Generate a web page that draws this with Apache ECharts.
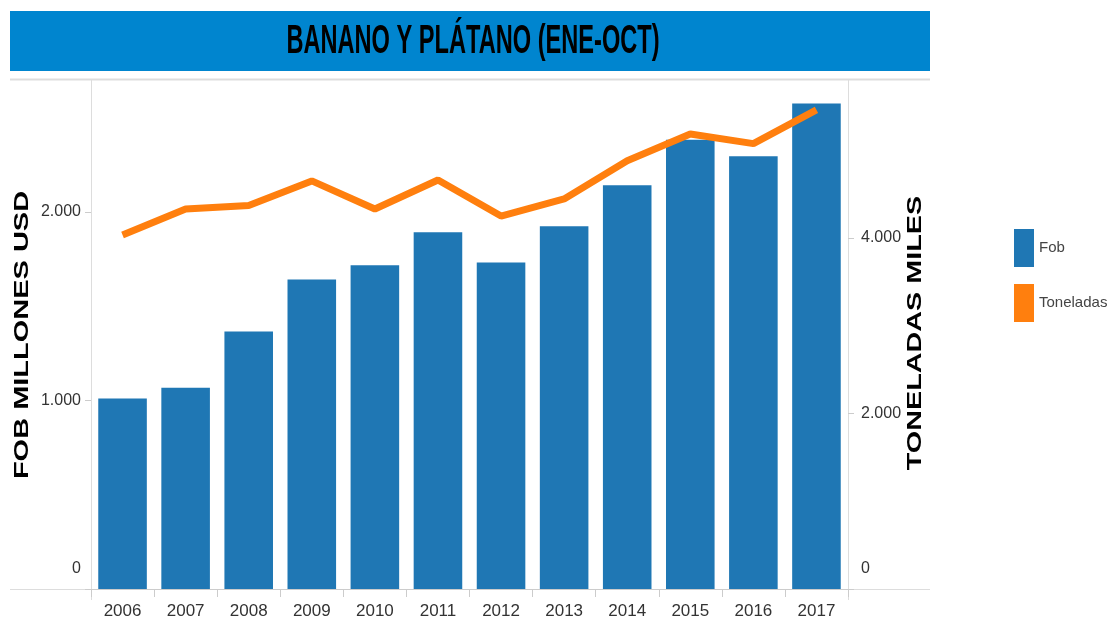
<!DOCTYPE html>
<html>
<head>
<meta charset="utf-8">
<script src="https://cdn.jsdelivr.net/npm/echarts@6/dist/echarts.min.js"></script>
<style>
html,body{margin:0;padding:0;background:#fff;}
#chart{width:1110px;height:624px;}
</style>
</head>
<body>
<div id="chart"></div>
<script>
const years = ['2006','2007','2008','2009','2010','2011','2012','2013','2014','2015','2016','2017'];
const fob = [1010, 1068, 1366, 1642, 1717, 1893, 1732, 1924, 2142, 2383, 2295, 2575];
const toneladas = [4035, 4330, 4370, 4650, 4330, 4660, 4250, 4445, 4880, 5185, 5075, 5460];
const titleText = 'BANANO Y PLÁTANO (ENE-OCT)';
const leftName = 'FOB MILLONES USD';
const rightName = 'TONELADAS MILES';

const font = '"Liberation Sans", Arial, sans-serif';
const fmt = v => v === 0 ? '{z|0}' : String(v).replace(/\B(?=(\d{3})+(?!\d))/g, '.');
const tickLabelStyle = {color:'#333', fontFamily: font, fontSize: 16};
const zeroRich = {z:{fontFamily:font, fontSize:16, color:'#333', padding:[0,0,40,0]}};

const chart = echarts.init(document.getElementById('chart'));
chart.setOption({
  animation: false,
  backgroundColor: '#fff',
  grid: {left: 91, right: 262, top: 80, bottom: 35},
  legend: {
    orient: 'vertical', left: 1009, top: 224,
    itemWidth: 20, itemHeight: 38, itemGap: 17,
    textStyle: {fontFamily: font, fontSize: 15, color: '#444'},
    data: [{name:'Fob', icon:'rect'}, {name:'Toneladas', icon:'rect'}]
  },
  xAxis: {
    type: 'category', data: years,
    axisLine: {show: true, lineStyle: {color: '#ccc'}},
    axisTick: {show: true, length: 8, lineStyle: {color: '#ccc'}},
    axisLabel: Object.assign({}, tickLabelStyle, {margin: 14, fontSize: 17})
  },
  yAxis: [
    {type:'value', min:0, max:2700, interval:1000, position:'left',
     splitLine:{show:false},
     axisLine:{show:true, lineStyle:{color:'#ddd'}},
     axisTick:{show:true, length:6, lineStyle:{color:'#ccc'}},
     axisLabel: Object.assign({margin: 10, formatter: fmt, showMaxLabel:false, rich: zeroRich}, tickLabelStyle)},
    {type:'value', min:0, max:5800, interval:2000, position:'right',
     splitLine:{show:false},
     axisLine:{show:true, lineStyle:{color:'#ddd'}},
     axisTick:{show:true, length:6, lineStyle:{color:'#ccc'}},
     axisLabel: Object.assign({margin: 13, formatter: fmt, showMaxLabel:false, rich: zeroRich}, tickLabelStyle)}
  ],
  series: [
    {name:'Fob', type:'bar', data: fob, yAxisIndex:0, barCategoryGap:'23%',
     itemStyle:{color:'#1f77b4'}},
    {name:'Toneladas', type:'line', data: toneladas, yAxisIndex:1, symbol:'none',
     lineStyle:{color:'#ff7f0e', width:7}, itemStyle:{color:'#ff7f0e'}}
  ],
  graphic: [
    {type:'rect', left:10, top:11, shape:{width:920, height:60}, style:{fill:'#0085cf'}, z:-1},
    {type:'text', x:473, y:42, scaleX:0.59, style:{text:titleText, font:'bold 40px ' + font, fill:'#000', align:'center', verticalAlign:'middle'}},
    {type:'line', shape:{x1:10, y1:79.5, x2:930, y2:79.5}, style:{stroke:'#ddd', lineWidth:2}},
    {type:'line', shape:{x1:10, y1:589.5, x2:930, y2:589.5}, style:{stroke:'#ddd', lineWidth:1}},
    {type:'line', shape:{x1:91.5, y1:589, x2:91.5, y2:600}, style:{stroke:'#ddd', lineWidth:1}},
    {type:'line', shape:{x1:848.5, y1:589, x2:848.5, y2:600}, style:{stroke:'#ddd', lineWidth:1}},
    {type:'text', x:22, y:335, rotation:Math.PI/2, scaleX:1.38, style:{text:leftName, font:'bold 21px ' + font, fill:'#000', align:'center', verticalAlign:'middle'}},
    {type:'text', x:915, y:333, rotation:Math.PI/2, scaleX:1.37, style:{text:rightName, font:'bold 21px ' + font, fill:'#000', align:'center', verticalAlign:'middle'}}
  ]
});
</script>
</body>
</html>
